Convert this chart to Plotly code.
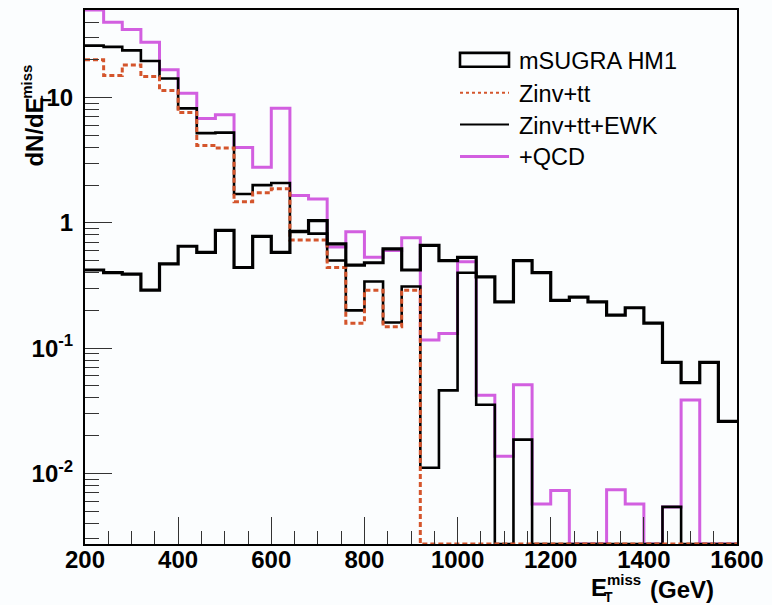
import numpy as np
import plotly.graph_objects as go

# ---------------- data ----------------
bin_edges = list(range(200, 1601, 40))  # 35 bins of 40 GeV

msugra_hm1 = [0.42, 0.40, 0.39, 0.29, 0.47, 0.65, 0.58, 0.87, 0.44, 0.78,
              0.58, 0.85, 1.04, 0.68, 0.46, 0.48, 0.62, 0.42, 0.66, 0.50,
              0.53, 0.37, 0.234, 0.50, 0.40, 0.24, 0.255, 0.234, 0.183, 0.21,
              0.158, 0.077, 0.053, 0.077, 0.026]

zinv_tt = [20.0, 15.0, 18.2, 14.7, 11.4, 7.6, 4.15, 3.95, 1.47, 1.74,
           1.87, 0.73, 0.73, 0.44, 0.158, 0.29, 0.148, 0.29, 0, 0,
           0, 0, 0, 0, 0, 0, 0, 0, 0, 0,
           0, 0, 0, 0, 0]

zinv_tt_ewk = [26.0, 25.4, 23.8, 19.6, 14.2, 8.2, 5.2, 5.25, 1.70, 2.0,
               2.08, 0.86, 0.82, 0.50, 0.20, 0.34, 0.16, 0.31, 0.0111, 0.046,
               0.40, 0.0353, 0, 0.0186, 0, 0, 0, 0, 0, 0,
               0, 0.0054, 0, 0, 0]

plus_qcd = [50.0, 40.0, 35.0, 27.6, 16.7, 10.8, 6.8, 7.3, 4.0, 2.78,
            8.2, 1.65, 1.55, 0.64, 0.85, 0.53, 0.60, 0.76, 0.116, 0.131,
            0.49, 0.042, 0.0137, 0.051, 0.0057, 0.0073, 0, 0, 0.0074, 0.0057,
            0, 0.0054, 0.0386, 0, 0]

legend_labels = ["mSUGRA HM1", "Zinv+tt", "Zinv+tt+EWK", "+QCD"]
y_tick_vals = [0.01, 0.1, 1, 10]
y_tick_text = ["10<sup>-2</sup>", "10<sup>-1</sup>", "1", "10"]

# ---------------- layout constants ----------------
W, H = 772, 605
L, R, T, B = 85, 737, 8, 544
YMIN, YMAX = 0.00273, 50.0

MAGENTA = "#d25fe0"
ORANGE = "#d4552c"
FONT = "Liberation Sans"


def px(x):
    return (x - L) / (R - L)


def py(y):
    return (B - y) / (B - T)


def step(vals):
    v = [x if x > 0 else YMIN for x in vals]
    return bin_edges, v + [v[-1]]


fig = go.Figure()

for vals, color, width, dash in [
    (plus_qcd, MAGENTA, 3, "solid"),
    (zinv_tt_ewk, "black", 2.6, "solid"),
    (zinv_tt, ORANGE, 3, "5px,3px"),
    (msugra_hm1, "black", 3.2, "solid"),
]:
    xs, ys = step(vals)
    fig.add_trace(go.Scatter(x=xs, y=ys, mode="lines",
                             line=dict(shape="hv", color=color, width=width, dash=dash),
                             showlegend=False, hoverinfo="skip"))

minor_y = [m * 10.0 ** e for e in range(-3, 2) for m in range(2, 10)]
minor_y = [v for v in minor_y if YMIN < v < YMAX]

fig.update_xaxes(
    range=[200, 1600], showline=True, linecolor="black", linewidth=2, mirror=True,
    ticks="inside", ticklen=27, tickwidth=1, tickcolor="#333",
    tick0=200, dtick=200, showgrid=False, zeroline=False,
    tickfont=dict(family=FONT, size=24, color="black", weight="bold"),
    ticklabelstandoff=-7,
    minor=dict(ticks="inside", ticklen=13, tickwidth=1, tickcolor="#333",
               dtick=50, tick0=200, showgrid=False),
)
fig.update_yaxes(
    type="log", range=[np.log10(YMIN), np.log10(YMAX)],
    showline=True, linecolor="black", linewidth=2, mirror=True,
    ticks="inside", ticklen=27, tickwidth=1, tickcolor="#333",
    tickmode="array", tickvals=y_tick_vals, ticktext=y_tick_text,
    showgrid=False, zeroline=False,
    tickfont=dict(family=FONT, size=24, color="black", weight="bold"),
    ticklabelstandoff=5,
    minor=dict(ticks="inside", ticklen=14, tickwidth=1, tickcolor="#333",
               tickmode="array", tickvals=minor_y, showgrid=False),
)

shapes = []
annotations = []

# ---- legend drawn by hand ----
rows_y = [58, 91, 123, 155]
lx0, lx1, tx = 460, 509, 518
shapes.append(dict(type="rect", xref="paper", yref="paper",
                   x0=px(lx0), x1=px(lx1), y0=py(65), y1=py(51),
                   line=dict(color="black", width=2.6), fillcolor="rgba(0,0,0,0)"))
for yy, color, width, dash in [(rows_y[1], ORANGE, 2, "dot"),
                               (rows_y[2], "black", 2, "solid"),
                               (rows_y[3], MAGENTA, 3, "solid")]:
    shapes.append(dict(type="line", xref="paper", yref="paper",
                       x0=px(lx0), x1=px(lx1), y0=py(yy), y1=py(yy),
                       line=dict(color=color, width=width, dash=dash)))
for lab, yy in zip(legend_labels, rows_y):
    annotations.append(dict(text=lab, x=px(tx), y=py(yy + 1), xanchor="left",
                            font=dict(family=FONT, size=23.5, color="black")))

# ---- y axis title: dN/dE_T^miss ----
bold = dict(family=FONT, color="black", weight="bold")
annotations += [
    dict(text="dN/dE", x=px(35), y=py(131), textangle=-90,
         font=dict(size=24, **bold)),
    dict(text="miss", x=px(27), y=py(80), textangle=-90,
         font=dict(size=15, **bold)),
    dict(text="T", x=px(46), y=py(99), textangle=-90,
         font=dict(size=15, **bold)),
]
# ---- x axis title: E_T^miss (GeV) ----
annotations += [
    dict(text="E", x=px(599), y=py(588), font=dict(size=24, **bold)),
    dict(text="miss", x=px(606), y=py(580), xanchor="left", font=dict(size=15, **bold)),
    dict(text="T", x=px(608), y=py(597), font=dict(size=14, **bold)),
    dict(text="(GeV)", x=px(649), y=py(590), xanchor="left", font=dict(size=24, **bold)),
]
for a in annotations:
    a.setdefault("xref", "paper")
    a.setdefault("yref", "paper")
    a.setdefault("xanchor", "center")
    a.setdefault("yanchor", "middle")
    a.setdefault("showarrow", False)
    a.setdefault("borderpad", 0)

fig.update_layout(
    width=W, height=H,
    margin=dict(l=L, r=W - R, t=T, b=H - B, pad=0),
    paper_bgcolor="#fbfdfe", plot_bgcolor="#fbfdfe",
    shapes=shapes, annotations=annotations, showlegend=False,
)

fig.write_html("out.html")
